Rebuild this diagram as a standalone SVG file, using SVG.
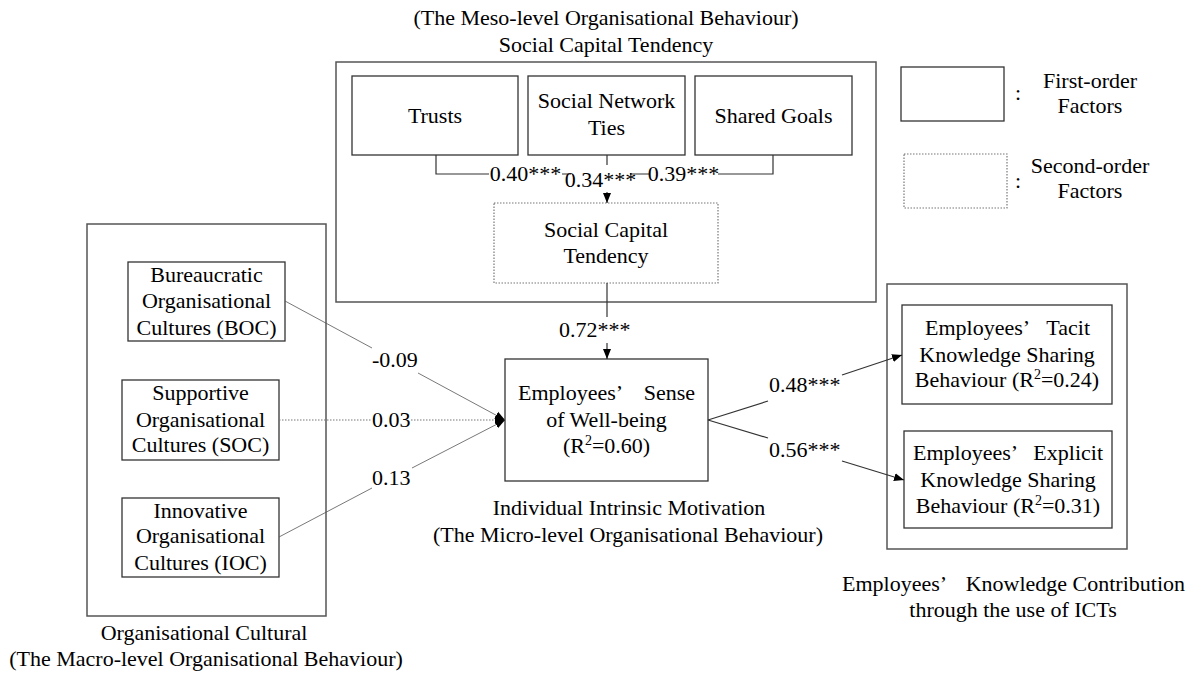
<svg xmlns="http://www.w3.org/2000/svg" width="1195" height="675" viewBox="0 0 1195 675">
<defs>
<style>
text{font-family:"Liberation Serif","Times New Roman",serif;font-size:22px;fill:#000;}
.c{text-anchor:middle;}
.box{fill:#fff;stroke:#333;stroke-width:1.3;}
.outer{fill:none;stroke:#555;stroke-width:1.5;}
.dot{fill:#fff;stroke:#777;stroke-width:1.2;stroke-dasharray:1.5 1.5;}
.ln{fill:none;stroke:#333;stroke-width:1.2;}
.thin{fill:none;stroke:#555;stroke-width:0.8;}
.dl{fill:none;stroke:#777;stroke-width:1.1;stroke-dasharray:1.5 1.5;}
.bg{fill:#fff;}
</style>
<marker id="arr" viewBox="0 0 10 10" refX="10" refY="5" markerWidth="10" markerHeight="10" orient="auto" markerUnits="userSpaceOnUse"><path d="M0,1 L10,5 L0,9 z" fill="#000"/></marker>
</defs>
<rect width="1195" height="675" fill="#fff"/>

<g id="sct-group">
<text class="c" x="606" y="25">(The Meso-level Organisational Behaviour)</text>
<text class="c" x="606" y="52">Social Capital Tendency</text>
<rect class="outer" x="336" y="62" width="540" height="240"/>
</g>

<g id="trusts"><rect class="box" x="352" y="76" width="166" height="79"/><text class="c" x="435" y="123">Trusts</text></g>
<g id="snt"><rect class="box" x="528" y="76" width="157" height="79"/><text class="c" x="606.5" y="108">Social Network</text><text class="c" x="606.5" y="135">Ties</text></g>
<g id="shared-goals"><rect class="box" x="695" y="76" width="157" height="79"/><text class="c" x="773.5" y="123">Shared Goals</text></g>
<g id="sct-second"><rect class="dot" x="494" y="203" width="224" height="80"/><text class="c" x="606" y="237">Social Capital</text><text class="c" x="606" y="263">Tendency</text></g>

<g id="macro-group">
<rect class="outer" x="87" y="224" width="239" height="392"/>
<text class="c" x="204" y="640">Organisational Cultural</text>
<text class="c" x="206" y="666">(The Macro-level Organisational Behaviour)</text>
</g>
<g id="boc"><rect class="box" x="128" y="262" width="157" height="79"/><text class="c" x="206.5" y="282">Bureaucratic</text><text class="c" x="206.5" y="308">Organisational</text><text class="c" x="206.5" y="335">Cultures (BOC)</text></g>
<g id="soc"><rect class="box" x="122" y="380" width="157" height="80"/><text class="c" x="200.5" y="400">Supportive</text><text class="c" x="200.5" y="427">Organisational</text><text class="c" x="200.5" y="452">Cultures (SOC)</text></g>
<g id="ioc"><rect class="box" x="122" y="498" width="157" height="79"/><text class="c" x="200.5" y="518">Innovative</text><text class="c" x="200.5" y="543">Organisational</text><text class="c" x="200.5" y="570">Cultures (IOC)</text></g>

<g id="wellbeing"><rect class="box" x="505" y="359" width="203" height="122"/>
<text x="518" y="400">Employees’</text><text x="695" y="400" text-anchor="end">Sense</text>
<text class="c" x="606.5" y="427">of Well-being</text>
<text class="c" x="606.5" y="453">(R<tspan font-size="14" dy="-8">2</tspan><tspan dy="8">=0.60)</tspan></text>
<text class="c" x="629" y="515">Individual Intrinsic Motivation</text>
<text class="c" x="628" y="542">(The Micro-level Organisational Behaviour)</text>
</g>

<g id="ksb-group">
<rect class="outer" x="887" y="284" width="240" height="265"/>
<text x="842" y="591">Employees’</text><text x="1185" y="591" text-anchor="end">Knowledge Contribution</text>
<text class="c" x="1013" y="617">through the use of ICTs</text>
</g>
<g id="tacit"><rect class="box" x="902" y="305" width="210" height="99"/>
<text x="925" y="335">Employees’</text><text x="1090" y="335" text-anchor="end">Tacit</text>
<text class="c" x="1007" y="362">Knowledge Sharing</text>
<text class="c" x="1007" y="387">Behaviour (R<tspan font-size="14" dy="-8">2</tspan><tspan dy="8">=0.24)</tspan></text>
</g>
<g id="explicit"><rect class="box" x="904" y="431" width="208" height="97"/>
<text x="913" y="460">Employees’</text><text x="1103" y="460" text-anchor="end">Explicit</text>
<text class="c" x="1008" y="487">Knowledge Sharing</text>
<text class="c" x="1008" y="513">Behaviour (R<tspan font-size="14" dy="-8">2</tspan><tspan dy="8">=0.31)</tspan></text>
</g>

<g id="legend">
<rect class="box" x="901" y="67" width="103" height="54"/>
<text x="1015" y="100">:</text>
<text class="c" x="1090" y="88">First-order</text>
<text class="c" x="1090" y="113">Factors</text>
<rect class="dot" x="904" y="154" width="103" height="54"/>
<text x="1015" y="188">:</text>
<text class="c" x="1090" y="173">Second-order</text>
<text class="c" x="1090" y="198">Factors</text>
</g>

<g id="connectors">
<path class="ln" d="M436,155 V174 H773 V155"/>
<path class="ln" d="M607,155 V166"/>
<rect class="bg" x="489" y="165" width="73" height="18"/>
<rect class="bg" x="571" y="165" width="59" height="24"/>
<rect class="bg" x="649" y="165" width="69" height="18"/>
<text class="c" x="525.5" y="181">0.40***</text>
<text class="c" x="600.5" y="187">0.34***</text>
<text class="c" x="683.5" y="181">0.39***</text>
<path class="ln" d="M607,192 V203" marker-end="url(#arr)"/>

<path class="ln" d="M607,283 V317"/>
<text x="559" y="337">0.72***</text>
<path class="ln" d="M607,343 V359" marker-end="url(#arr)"/>

<path class="thin" d="M285,301 L372,348"/>
<text x="372" y="367">-0.09</text>
<path class="thin" d="M418,373 L505,420" marker-end="url(#arr)"/>
<path class="dl" d="M279,420 H371"/>
<text x="372" y="427">0.03</text>
<path class="dl" d="M411,420 H505" marker-end="url(#arr)"/>
<path class="thin" d="M279,537 L372,488"/>
<text x="372" y="485">0.13</text>
<path class="thin" d="M412,468 L505,420" marker-end="url(#arr)"/>

<path class="ln" d="M708,420 L768,401"/>
<text x="769" y="392">0.48***</text>
<path class="ln" d="M842,375 L902,355" marker-end="url(#arr)"/>
<path class="ln" d="M708,420 L768,438"/>
<text x="769" y="457">0.56***</text>
<path class="ln" d="M842,461 L904,480" marker-end="url(#arr)"/>
</g>
</svg>
